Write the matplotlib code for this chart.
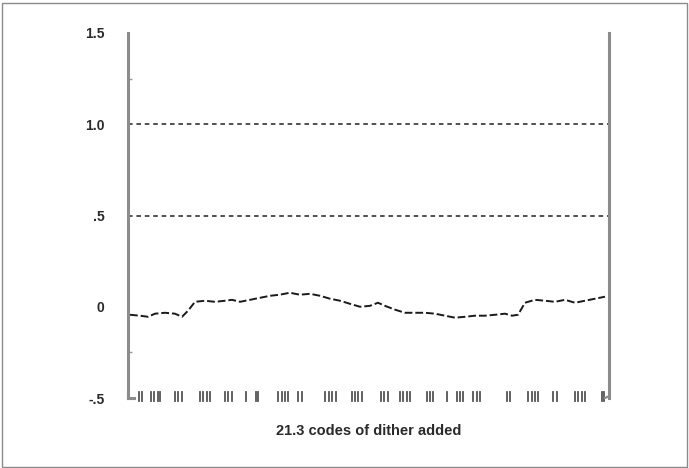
import matplotlib
matplotlib.use("Agg")
import matplotlib.pyplot as plt
from matplotlib.patches import Rectangle
from matplotlib.lines import Line2D

# Residual error trace (position along the sweep, error in LSB)
sweep_pos = [2, 12, 20, 27, 37, 47, 54, 60, 67, 77, 87, 97, 104, 112, 122, 132,
             142, 152, 162, 167, 172, 182, 192, 202, 212, 222, 232, 242, 250,
             257, 267, 277, 287, 297, 307, 317, 327, 337, 347, 357, 367, 377,
             384, 390, 397, 407, 417, 427, 437, 447, 457, 467, 477]
error = [-0.044, -0.049, -0.055, -0.038, -0.033, -0.038, -0.055, -0.022,
         0.027, 0.033, 0.027, 0.033, 0.038, 0.027, 0.038, 0.049, 0.060, 0.066,
         0.077, 0.071, 0.066, 0.071, 0.060, 0.044, 0.033, 0.016, 0.000, 0.005,
         0.022, 0.005, -0.016, -0.033, -0.033, -0.033, -0.038, -0.049, -0.060,
         -0.055, -0.049, -0.049, -0.044, -0.038, -0.049, -0.044, 0.022, 0.038,
         0.033, 0.027, 0.038, 0.022, 0.033, 0.044, 0.055]

# Positions of the dither codes along the sweep
code_pos = [11, 14, 23, 26, 30, 32, 47, 50, 54, 72, 75, 79, 82, 97, 100, 104,
            118, 128, 130, 150, 154, 157, 160, 170, 174, 197, 201, 204, 208,
            224, 227, 230, 234, 253, 256, 260, 272, 275, 279, 282, 299, 302,
            305, 319, 329, 332, 335, 345, 349, 352, 379, 382, 400, 404, 407,
            410, 425, 429, 447, 450, 454, 457, 474, 476]

y_ticks = [-0.5, 0.0, 0.5, 1.0, 1.5]
y_tick_labels = ["-.5", "0", ".5", "1.0", "1.5"]
grid_levels = [0.5, 1.0]
x_label = "21.3 codes of dither added"

W, H = 689, 468
fig = plt.figure(figsize=(W / 100, H / 100), dpi=100)
fig.patch.set_facecolor("white")

# Thin frame around the whole figure
fig.add_artist(Rectangle((1.5 / W, 1.5 / H), (W - 4) / W, (H - 4) / H,
                         transform=fig.transFigure, fill=False,
                         edgecolor="#8a8a8a", linewidth=1.0))

left, right, top, bottom = 128, 609, 33, 398
ax = fig.add_axes([left / W, 1 - bottom / H, (right - left) / W, (bottom - top) / H])
ax.set_xlim(0, 481)
ax.set_ylim(-0.5, 1.5)
ax.set_facecolor("white")

for side in ("top", "bottom"):
    ax.spines[side].set_visible(False)
for side in ("left", "right"):
    ax.spines[side].set_color("#8c8c8c")
    ax.spines[side].set_linewidth(2.2)

# Dotted reference levels
for lvl in grid_levels:
    ax.axhline(lvl, color="#222222", linewidth=1.1, linestyle=(0, (3, 2.5)))

# Error trace
ax.plot(sweep_pos, error, color="#1a1a1a", linewidth=1.4,
        linestyle=(0, (4, 1.5)), solid_capstyle="butt")

# Rug of dither codes along the bottom
for p in code_pos:
    ax.add_line(Line2D([p, p], [-0.514, -0.468], color="#555555",
                       linewidth=1.3, clip_on=False))

# Small corner hooks at the bottom of the side rails
ax.add_line(Line2D([0, 6], [-0.5, -0.5], color="#8c8c8c", linewidth=2.2,
                   clip_on=False))
ax.add_line(Line2D([481, 477], [-0.49, -0.5], color="#8c8c8c", linewidth=1.6,
                   clip_on=False))

ax.set_xticks([])
ax.set_yticks(y_ticks)
ax.set_yticklabels(y_tick_labels, fontsize=10, fontweight="bold",
                   color="#2a2a2a", family="Liberation Sans")
ax.set_yticks([-0.25, 1.25], minor=True)
ax.tick_params(axis="y", which="major", length=0, pad=17)
ax.tick_params(axis="y", which="minor", length=3, width=1, color="#9a9a9a",
               direction="in")

ax.set_xlabel(x_label, fontsize=10.5, fontweight="bold", color="#2a2a2a",
              family="Liberation Sans", labelpad=18.5)

fig.savefig("out.png", dpi=100, facecolor="white")
